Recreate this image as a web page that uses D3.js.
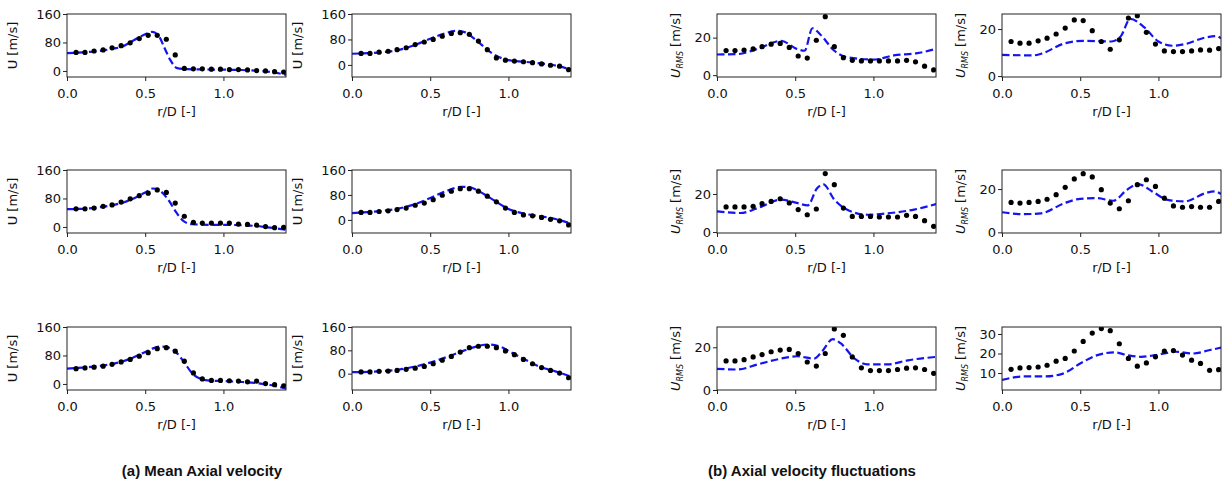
<!DOCTYPE html>
<html>
<head>
<meta charset="utf-8">
<script src="https://cdn.jsdelivr.net/npm/d3@7"></script>
<style>
  body { margin: 0; background: #fff; }
  text { font-family: "DejaVu Sans", sans-serif; fill: #111; }
  text.caption { font-family: "Liberation Sans", Arial, sans-serif; font-weight: bold; }
</style>
</head>
<body>
<svg id="chart" width="1224" height="487"></svg>
<script>
// measurement stations r/D (same for every panel)
const rExp = [0.058, 0.115, 0.173, 0.231, 0.288, 0.346, 0.404, 0.462, 0.519, 0.577, 0.635, 0.692,
              0.750, 0.808, 0.865, 0.923, 0.981, 1.038, 1.096, 1.154, 1.212, 1.269, 1.327, 1.385];

const xTicks = [0, 0.5, 1.0];

// (a) mean axial velocity, experiments (dots) and CFD (dashed) -- column 1 / column 2, rows 1..3
const uExp1 = [52, 52, 56, 59, 65, 71, 79, 91, 100, 100, 89, 45, 7, 6, 6, 5, 5, 4, 4, 3, 1, 0, -2, -3];
const uCfd1 = [[0,50],[0.1,52],[0.2,56],[0.3,63],[0.35,68],[0.43,87],[0.51,105],[0.545,110],[0.59,96],
               [0.62,68],[0.66,31],[0.705,8],[0.77,5],[0.9,4],[1.07,3],[1.2,1],[1.3,-3],[1.4,-11]];
const uExp2 = [36, 36, 40, 43, 48, 54, 64, 72, 80, 90, 99, 101, 96, 75, 48, 22, 15, 12, 10, 7, 3, -1, -4, -15];
const uCfd2 = [[0,35],[0.1,37],[0.2,40],[0.3,47],[0.4,62],[0.5,82],[0.6,100],[0.67,107],[0.72,103],
               [0.8,75],[0.9,35],[1.0,15],[1.1,10],[1.2,5],[1.3,-2],[1.4,-15]];
const uExp3 = [51, 51, 53, 58, 62, 70, 79, 88, 95, 104, 97, 67, 30, 13, 11, 11, 11, 11, 8, 7, 5, 1, -2, -1];
const uCfd3 = [[0,50],[0.1,51],[0.2,55],[0.3,62],[0.4,75],[0.5,97],[0.55,108],[0.6,100],[0.65,75],
               [0.7,40],[0.75,15],[0.8,8],[0.9,6],[1.0,6],[1.1,5],[1.2,3],[1.3,-2],[1.4,-8]];
const uExp4 = [24, 24, 27, 29, 33, 38, 47, 54, 65, 79, 92, 100, 100, 92, 76, 58, 38, 24, 16, 13, 8, 2, -3, -16];
const uCfd4 = [[0,22],[0.1,25],[0.2,29],[0.3,37],[0.4,50],[0.5,70],[0.6,92],[0.7,106],[0.75,105],
               [0.8,95],[0.9,65],[1.0,35],[1.1,20],[1.2,12],[1.3,3],[1.4,-12]];
const uExp5 = [43, 45, 47, 50, 55, 62, 69, 78, 88, 99, 102, 92, 64, 31, 14, 10, 10, 9, 8, 6, 8, 1, -2, -5];
const uCfd5 = [[0,43],[0.1,46],[0.2,50],[0.3,57],[0.4,70],[0.5,90],[0.55,100],[0.6,105],[0.65,102],
               [0.7,88],[0.75,60],[0.8,30],[0.85,15],[0.9,10],[1.0,8],[1.1,6],[1.2,3],[1.3,-3],[1.4,-13]];
const uExp6 = [6, 6, 8, 9, 11, 15, 19, 25, 34, 46, 59, 74, 89, 94, 94, 89, 78, 65, 49, 34, 21, 11, 2, -14];
const uCfd6 = [[0,5],[0.1,6],[0.2,9],[0.3,14],[0.4,24],[0.5,38],[0.6,56],[0.7,76],[0.8,94],[0.87,100],
               [0.95,92],[1.0,78],[1.1,50],[1.2,24],[1.3,8],[1.4,-10]];

// (b) axial velocity fluctuations
const rmsExp1 = [13.1, 13.1, 13.4, 14, 15.2, 16.5, 16.9, 14.8, 10.2, 9.1, 18.6, 31.2, 15.2, 9.3, 7.9, 7.6,
                 7.6, 7.6, 7.6, 7.6, 7.9, 7.1, 4.8, 2.8];
const rmsCfd1 = [[0,11],[0.13,11.2],[0.26,14],[0.41,18.3],[0.51,14],[0.56,13],[0.61,25],[0.66,21.7],
                 [0.75,13],[0.83,9.6],[1.0,8.3],[1.13,10.5],[1.28,11.7],[1.4,14]];
const rmsExp2 = [14.7, 14, 14, 15, 16.1, 17.9, 20.4, 23.9, 23.6, 19.3, 14.7, 11.4, 15.4, 24.7, 25.7, 18.6,
                 13.6, 10.7, 10.4, 10.4, 10.7, 11.1, 11, 11.7];
const rmsCfd2 = [[0,9],[0.2,8.8],[0.25,9.5],[0.4,13.9],[0.52,15],[0.7,14.7],[0.76,17],[0.82,24.3],
                 [0.91,20.7],[1.0,14.7],[1.09,12.9],[1.17,13.6],[1.3,16.4],[1.37,17],[1.4,16]];
const rmsExp3 = [13.2, 13.2, 13.2, 13.5, 14.9, 16.1, 17.5, 15.3, 11.8, 9.1, 12.1, 30.7, 24.9, 12.6, 8.2, 8.2,
                 8.2, 7.9, 7.9, 7.9, 8.8, 8.2, 6, 3];
const rmsCfd3 = [[0,10.9],[0.15,10],[0.26,12.6],[0.41,17],[0.51,15.3],[0.58,14],[0.64,23],[0.68,25],
                 [0.75,17],[0.83,11.8],[0.96,9.1],[1.11,10],[1.26,11.8],[1.4,14.7]];
const rmsExp4 = [13.8, 13.5, 13.8, 14.3, 15.3, 17.4, 20.8, 24.7, 27.1, 25.6, 19.7, 13.5, 10.9, 14.6, 22, 24.3,
                 21.2, 15.8, 12.2, 11.6, 11.9, 11.6, 11.6, 14.3];
const rmsCfd4 = [[0,9.3],[0.14,8.4],[0.25,8.8],[0.4,13.5],[0.5,15.5],[0.61,15.8],[0.71,14.6],[0.8,19.7],
                 [0.87,22.3],[0.96,18.9],[1.06,15],[1.17,14.3],[1.3,18.1],[1.36,18.9],[1.4,17.7]];
const rmsExp5 = [13.6, 13.6, 14.2, 15.5, 16.6, 17.9, 18.7, 19, 17.1, 13.1, 11.2, 17.1, 28.6, 25.6, 15.5, 10.4,
                 9.1, 9.1, 9.1, 9.6, 10.2, 10.4, 9.6, 7.8];
const rmsCfd5 = [[0,9.9],[0.13,9.6],[0.26,12],[0.41,14.7],[0.51,15.8],[0.62,14.7],[0.67,17.9],[0.74,23.8],
                 [0.79,21.9],[0.88,14.7],[0.96,12],[1.09,12],[1.22,13.9],[1.4,15.5]];
const rmsExp6 = [11.9, 12.6, 12.8, 13.1, 14, 16.1, 17.5, 21.3, 26.2, 30.5, 32.8, 31.7, 25, 17.5, 13.5, 15.2,
                 18.3, 21.3, 21.5, 19.2, 16.6, 14.9, 11.4, 11.7];
const rmsCfd6 = [[0,6.5],[0.15,8.3],[0.28,8.3],[0.39,9.7],[0.5,14.9],[0.61,19.2],[0.72,20.6],[0.8,19.2],
                 [0.89,18.3],[0.98,19.2],[1.11,20.9],[1.22,20],[1.33,21.8],[1.41,23.2]];

const meanTicks = [0, 80, 160];
const rmsTicks = [0, 20];
const rmsTicks6 = [10, 20, 30];

// panel layout
const colX = [67, 352, 717, 1002];
const rowY = [14, 170, 327];
const W = 219, H = 63;

const panels = [
  {c:0, r:0, exp:uExp1, cfd:uCfd1, yd:[-17,160], ticks:meanTicks, rms:false},
  {c:1, r:0, exp:uExp2, cfd:uCfd2, yd:[-38,160], ticks:meanTicks, rms:false},
  {c:0, r:1, exp:uExp3, cfd:uCfd3, yd:[-17,160], ticks:meanTicks, rms:false},
  {c:1, r:1, exp:uExp4, cfd:uCfd4, yd:[-42,160], ticks:meanTicks, rms:false},
  {c:0, r:2, exp:uExp5, cfd:uCfd5, yd:[-17,160], ticks:meanTicks, rms:false},
  {c:1, r:2, exp:uExp6, cfd:uCfd6, yd:[-56,160], ticks:meanTicks, rms:false},
  {c:2, r:0, exp:rmsExp1, cfd:rmsCfd1, yd:[-1,32.6], ticks:rmsTicks, rms:true},
  {c:3, r:0, exp:rmsExp2, cfd:rmsCfd2, yd:[-0.4,26.4], ticks:rmsTicks, rms:true},
  {c:2, r:1, exp:rmsExp3, cfd:rmsCfd3, yd:[-0.5,32.6], ticks:rmsTicks, rms:true},
  {c:3, r:1, exp:rmsExp4, cfd:rmsCfd4, yd:[-0.3,28.8], ticks:rmsTicks, rms:true},
  {c:2, r:2, exp:rmsExp5, cfd:rmsCfd5, yd:[0,29.5], ticks:rmsTicks, rms:true},
  {c:3, r:2, exp:rmsExp6, cfd:rmsCfd6, yd:[1.3,33.6], ticks:rmsTicks6, rms:true}
];

const svg = d3.select("#chart");
svg.append("rect").attr("width", 1224).attr("height", 487).attr("fill", "#fff");

const x = d3.scaleLinear().domain([0, 1.4]).range([0, W]);

panels.forEach(function(p, i) {
  const g = svg.append("g").attr("transform", "translate(" + colX[p.c] + "," + rowY[p.r] + ")");
  const y = d3.scaleLinear().domain(p.yd).range([H, 0]);

  g.append("clipPath").attr("id", "clip" + i)
    .append("rect").attr("width", W).attr("height", H);

  const plot = g.append("g").attr("clip-path", "url(#clip" + i + ")");

  const line = d3.line()
    .x(d => x(d[0]))
    .y(d => y(d[1]))
    .curve(d3.curveMonotoneX);

  plot.append("path")
    .datum(p.cfd)
    .attr("d", line)
    .attr("fill", "none")
    .attr("stroke", "#1414f0")
    .attr("stroke-width", 2.2)
    .attr("stroke-dasharray", "7.5,3.5");

  plot.selectAll("circle")
    .data(p.exp)
    .join("circle")
    .attr("cx", (d, k) => x(rExp[k]))
    .attr("cy", d => y(d))
    .attr("r", 2.6)
    .attr("fill", "#000");

  // frame
  g.append("rect").attr("width", W).attr("height", H)
    .attr("fill", "none").attr("stroke", "#222").attr("stroke-width", 1);

  const xa = g.append("g").attr("transform", "translate(0," + H + ")")
    .call(d3.axisBottom(x).tickValues(xTicks).tickFormat(d3.format(".1f"))
      .tickSize(4).tickPadding(8).tickSizeOuter(0));
  const ya = g.append("g")
    .call(d3.axisLeft(y).tickValues(p.ticks).tickFormat(d3.format("d"))
      .tickSize(4).tickPadding(2).tickSizeOuter(0));

  [xa, ya].forEach(function(a) {
    a.select(".domain").remove();
    a.selectAll("line").attr("stroke", "#222");
    a.selectAll("text").attr("font-size", 13).attr("fill", "#111");
  });

  g.append("text")
    .attr("x", W / 2).attr("y", H + 39)
    .attr("text-anchor", "middle")
    .attr("font-size", 13)
    .text("r/D [-]");

  const yl = g.append("text")
    .attr("transform", "translate(" + (p.rms ? -42 : -55) + "," + (H / 2) + ") rotate(-90)")
    .attr("text-anchor", "middle")
    .attr("dy", "0.35em")
    .attr("font-size", 13);
  if (p.rms) {
    yl.append("tspan").attr("font-style", "italic").text("U");
    yl.append("tspan").attr("font-style", "italic").attr("font-size", 8).attr("dy", 3).text("RMS");
    yl.append("tspan").attr("dy", -3).text(" [m/s]");
  } else {
    yl.text("U [m/s]");
  }
});

// captions
svg.append("text").attr("class", "caption").attr("x", 202).attr("y", 476).attr("text-anchor", "middle")
  .attr("font-size", 15).text("(a) Mean Axial velocity");
svg.append("text").attr("class", "caption").attr("x", 812).attr("y", 476).attr("text-anchor", "middle")
  .attr("font-size", 15).text("(b) Axial velocity fluctuations");
</script>
</body>
</html>
